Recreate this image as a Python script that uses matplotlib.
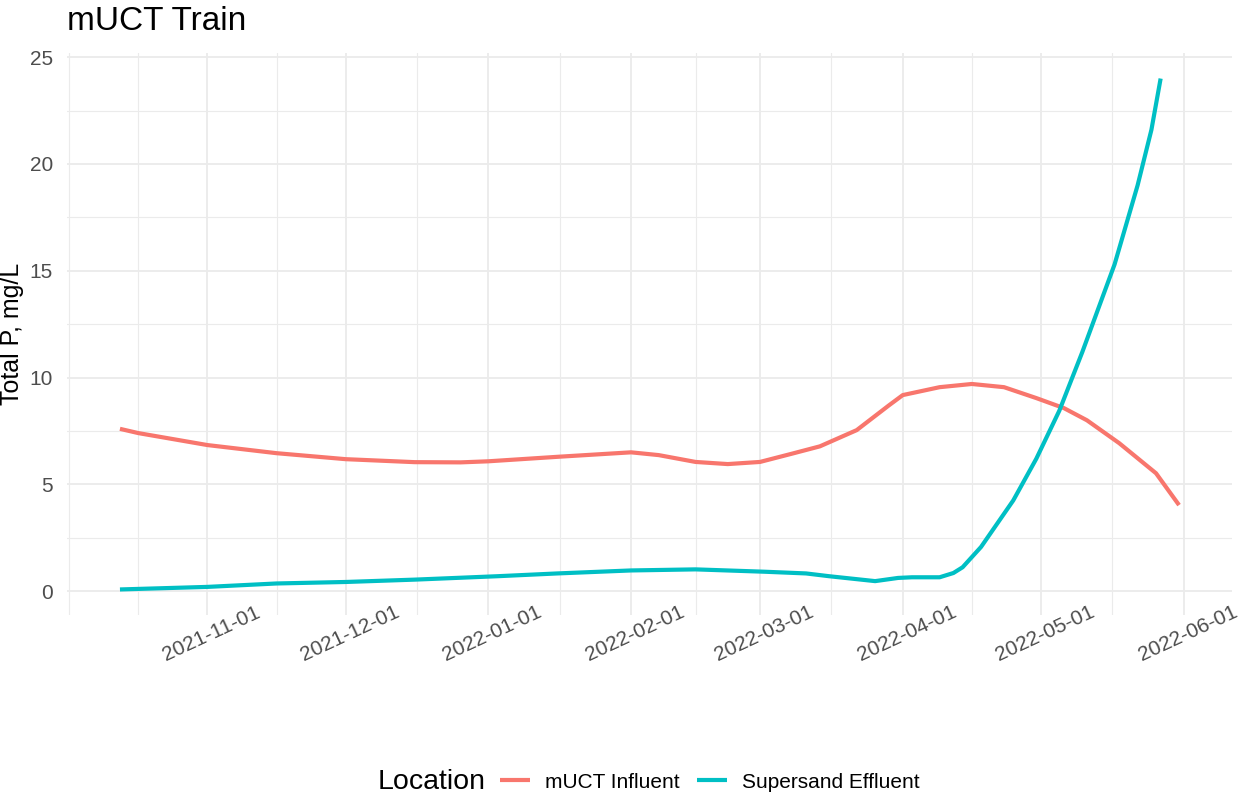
"""Smoothed total P trend for the mUCT train (influent vs supersand effluent)."""
import numpy as np
import pandas as pd
import matplotlib
matplotlib.use('Agg')
import matplotlib.pyplot as plt
import matplotlib.dates as mdates
import matplotlib.transforms as mtransforms

plt.rcParams['font.family'] = ['Liberation Sans', 'DejaVu Sans']

# values
influent_dates = ['2021-10-13', '2021-10-17', '2021-11-01', '2021-11-16', '2021-12-01',
                  '2021-12-16', '2021-12-26', '2022-01-01', '2022-01-16', '2022-02-01',
                  '2022-02-07', '2022-02-15', '2022-02-22', '2022-03-01', '2022-03-08',
                  '2022-03-14', '2022-03-22', '2022-03-29', '2022-04-01',
                  '2022-04-09', '2022-04-16', '2022-04-23', '2022-04-30', '2022-05-06',
                  '2022-05-11', '2022-05-18', '2022-05-26', '2022-05-31']
influent_tp = [7.60, 7.40, 6.84, 6.46, 6.18,
               6.04, 6.03, 6.08, 6.29, 6.50,
               6.37, 6.05, 5.95, 6.05, 6.44,
               6.78, 7.54, 8.70, 9.18,
               9.55, 9.70, 9.55, 9.04, 8.57,
               8.00, 6.93, 5.52, 4.03]

effluent_dates = ['2021-10-13', '2021-11-01', '2021-11-16', '2021-12-01', '2021-12-16',
                  '2022-01-03', '2022-01-16', '2022-02-01', '2022-02-15', '2022-03-02',
                  '2022-03-11', '2022-03-16', '2022-03-26', '2022-03-31', '2022-04-03',
                  '2022-04-09', '2022-04-12', '2022-04-14', '2022-04-18', '2022-04-25',
                  '2022-04-30', '2022-05-05', '2022-05-10', '2022-05-17', '2022-05-22',
                  '2022-05-25', '2022-05-27']
effluent_tp = [0.08, 0.20, 0.36, 0.43, 0.54,
               0.70, 0.83, 0.97, 1.02, 0.91,
               0.83, 0.70, 0.47, 0.62, 0.65,
               0.65, 0.85, 1.12, 2.07, 4.25,
               6.20, 8.45, 11.20, 15.30, 19.00,
               21.60, 24.00]

locations = ['mUCT Influent', 'Supersand Effluent']
colors = ['#F8766D', '#00BFC4']

W, H = 1242, 799
fig = plt.figure(figsize=(W / 100, H / 100), dpi=100)
# panel box in pixels: left 67, right 1232, top 53, bottom 615
ax = fig.add_axes([67 / W, 1 - 615 / H, (1232 - 67) / W, (615 - 53) / H])

series = [(influent_dates, influent_tp), (effluent_dates, effluent_tp)]
for (d, v), lab, c in zip(series, locations, colors):
    ax.plot(pd.to_datetime(d), v, color=c, lw=3, label=lab,
            solid_capstyle='butt', solid_joinstyle='round')

ax.margins(x=0.05, y=0.05)

# ggplot-like breaks
majors = pd.date_range('2021-11-01', '2022-06-01', freq='MS')
mnum = mdates.date2num(majors)
step = mnum[1] - mnum[0]
mids = (mnum[:-1] + mnum[1:]) / 2
minors = np.concatenate([[mnum[0] - step, mnum[0] - step / 2], mids])
ax.set_xticks(majors)
ax.set_xticks(minors, minor=True)
ax.xaxis.set_major_formatter(mdates.DateFormatter('%Y-%m-%d'))
ax.set_yticks([0, 5, 10, 15, 20, 25])
ax.set_yticks([2.5, 7.5, 12.5, 17.5, 22.5], minor=True)

ax.grid(which='major', color='#EBEBEB', lw=1.3)
ax.grid(which='minor', color='#EBEBEB', lw=0.8)
ax.set_axisbelow(True)
for s in ax.spines.values():
    s.set_visible(False)
ax.tick_params(which='both', length=0)
ax.tick_params(axis='y', labelsize=15, labelcolor='#4D4D4D', pad=10)
ax.tick_params(axis='x', labelsize=15, labelcolor='#4D4D4D', pad=7)
# rotated labels sit a bit higher and right of the tick, like ggplot's
shift = mtransforms.ScaledTranslation(4 / 100, 22 / 100, fig.dpi_scale_trans)
for t in ax.get_xticklabels():
    t.set_rotation(25)
    t.set_ha('center')
    t.set_transform(t.get_transform() + shift)

fig.text(67 / W, 1 - 30 / H, 'mUCT Train', fontsize=24, va='baseline', ha='left')
fig.text(12 / W, 1 - 334 / H, 'Total P, mg/L', fontsize=18, rotation=90,
         ha='center', va='center')

fig.text(378 / W, 1 - 782 / H, 'Location', fontsize=20.5, ha='left', va='center')
fig.legend(loc='center left', bbox_to_anchor=(500 / W, 1 - 782 / H), ncol=2,
           frameon=False, fontsize=15, handlelength=1.45, handletextpad=0.7,
           columnspacing=0.85, borderpad=0, borderaxespad=0)

fig.savefig('out.png', dpi=100)
